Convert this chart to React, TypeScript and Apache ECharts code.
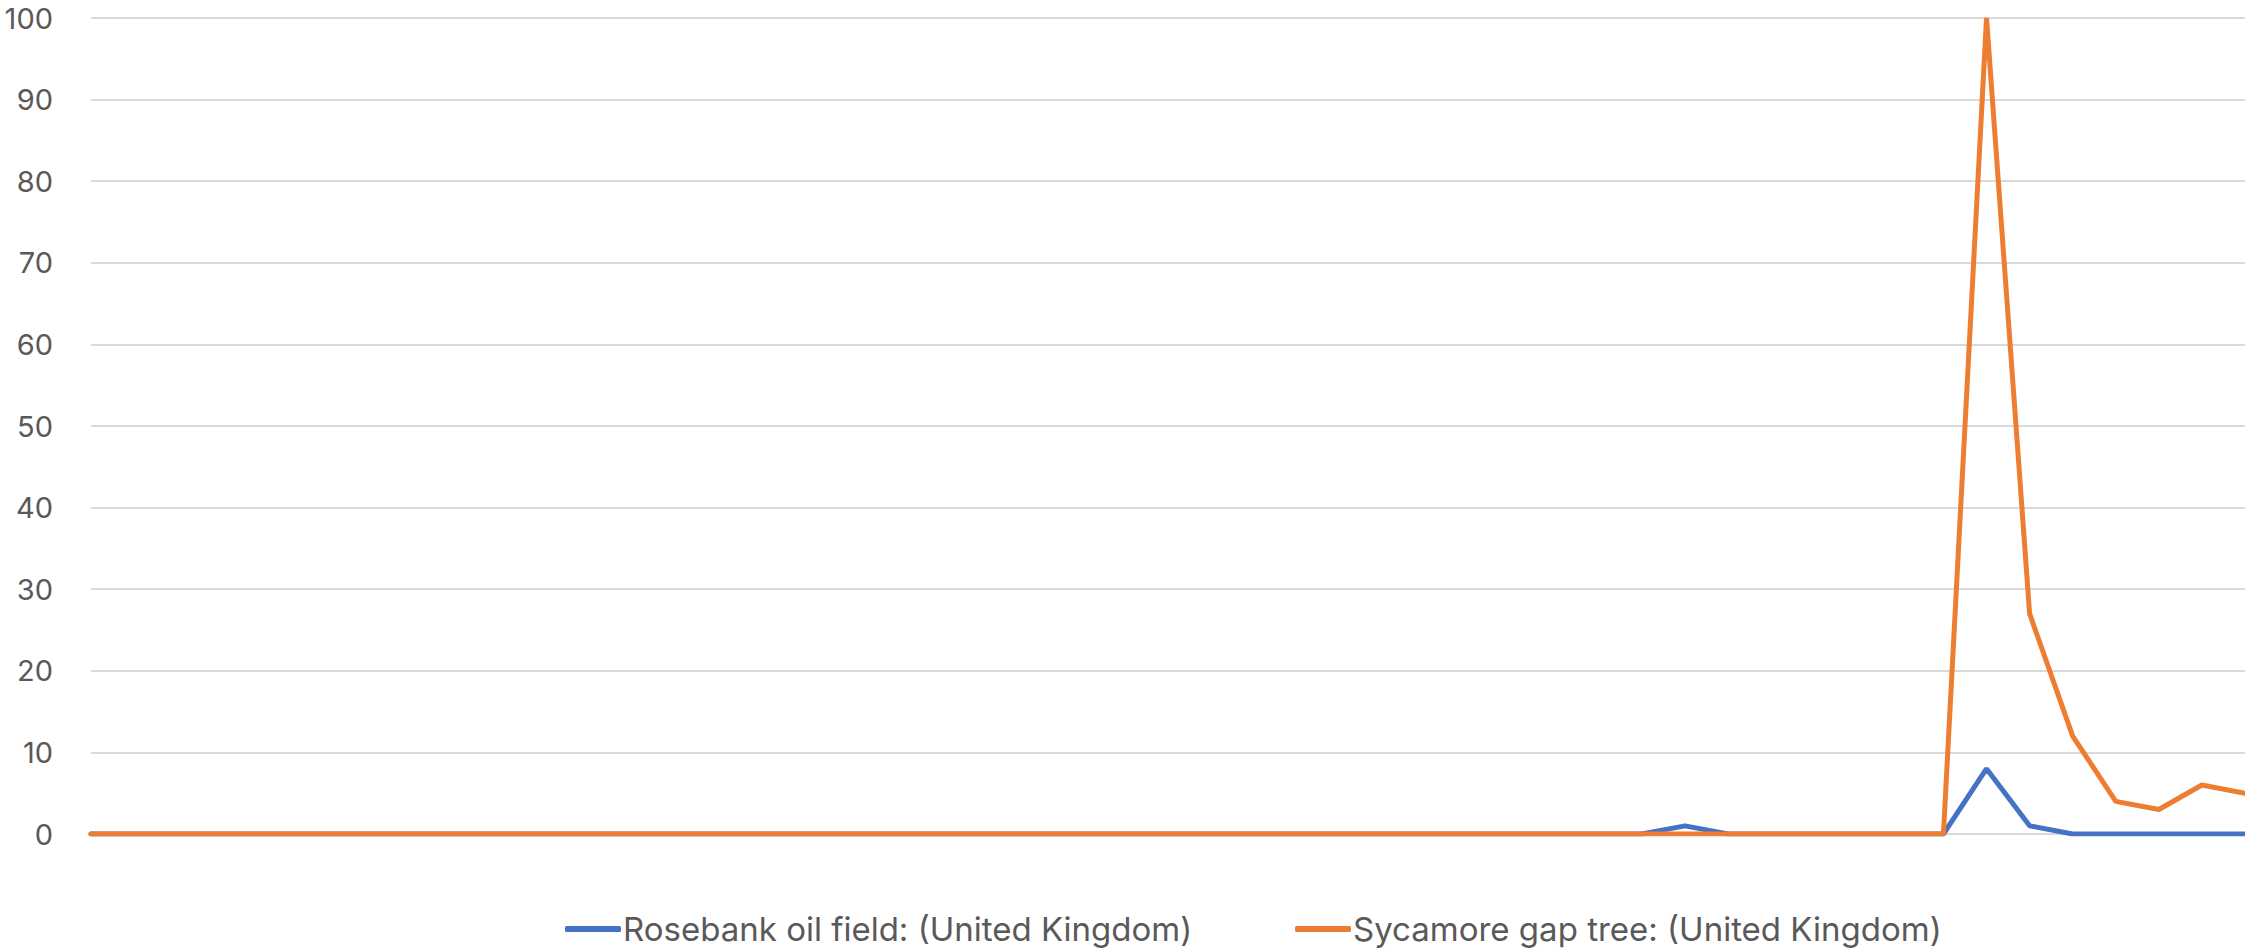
import React, { useEffect, useRef } from "react";
import * as echarts from "echarts";

// One category per reporting period (51 periods, not labelled on the axis)
const periods: string[] = Array.from({ length: 51 }, (_, i) => `P${i + 1}`);

const rosebank: number[] = [
  0, 0, 0, 0, 0, 0, 0, 0, 0, 0,
  0, 0, 0, 0, 0, 0, 0, 0, 0, 0,
  0, 0, 0, 0, 0, 0, 0, 0, 0, 0,
  0, 0, 0, 0, 0, 0, 0, 1, 0, 0,
  0, 0, 0, 0, 8, 1, 0, 0, 0, 0,
  0,
];

const sycamore: number[] = [
  0, 0, 0, 0, 0, 0, 0, 0, 0, 0,
  0, 0, 0, 0, 0, 0, 0, 0, 0, 0,
  0, 0, 0, 0, 0, 0, 0, 0, 0, 0,
  0, 0, 0, 0, 0, 0, 0, 0, 0, 0,
  0, 0, 0, 0, 100, 27, 12, 4, 3, 6,
  5,
];

const seriesNames = [
  "Rosebank oil field: (United Kingdom)",
  "Sycamore gap tree: (United Kingdom)",
];

const BLUE = "#4472C4";
const ORANGE = "#ED7D31";
const TEXT = "#595959";
const FONT = "Inter, 'Noto Sans', sans-serif";

const legendBase = {
  top: 909,
  padding: 0,
  itemWidth: 56,
  itemHeight: 6,
  icon: "roundRect",
  textStyle: {
    color: TEXT,
    fontSize: 33,
    lineHeight: 40,
    fontFamily: FONT,
    padding: [0, 0, 0, -3],
  },
};

export default function App() {
  const ref = useRef<HTMLDivElement>(null);

  useEffect(() => {
    if (!ref.current) return;
    const chart = echarts.init(ref.current, undefined, { renderer: "svg" });
    chart.setOption({
      animation: false,
      backgroundColor: "#ffffff",
      textStyle: { fontFamily: FONT },
      grid: { left: 91, right: 0, top: 18, bottom: 117, containLabel: false },
      xAxis: {
        type: "category",
        data: periods,
        boundaryGap: false,
        axisLine: { show: false },
        axisTick: { show: false },
        axisLabel: { show: false },
        splitLine: { show: false },
      },
      yAxis: {
        type: "value",
        min: 0,
        max: 100,
        interval: 10,
        axisLine: { show: false },
        axisTick: { show: false },
        axisLabel: {
          color: TEXT,
          fontSize: 29,
          fontFamily: FONT,
          margin: 38,
        },
        splitLine: { lineStyle: { color: "#d9d9d9", width: 2 } },
      },
      legend: [
        { ...legendBase, left: 565, data: [seriesNames[0]] },
        { ...legendBase, left: 1295, data: [seriesNames[1]] },
      ],
      series: [
        {
          name: seriesNames[0],
          type: "line",
          data: rosebank,
          symbol: "none",
          color: BLUE,
          lineStyle: { width: 5, color: BLUE, cap: "round" },
        },
        {
          name: seriesNames[1],
          type: "line",
          data: sycamore,
          symbol: "none",
          color: ORANGE,
          lineStyle: { width: 5, color: ORANGE, cap: "round" },
        },
      ],
    });
    return () => chart.dispose();
  }, []);

  return (
    <div
      ref={ref}
      style={{ position: "fixed", left: 0, top: 0, width: 2245, height: 951, background: "#fff" }}
    />
  );
}
